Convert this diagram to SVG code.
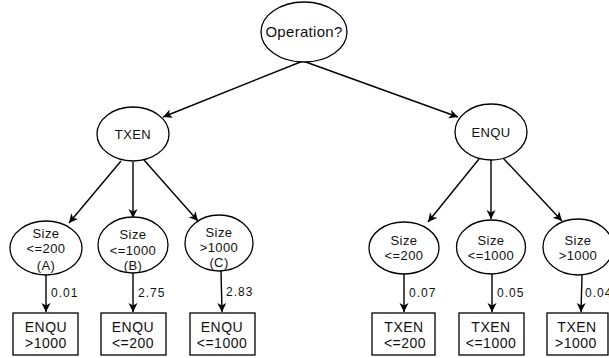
<svg xmlns="http://www.w3.org/2000/svg" width="609" height="358" viewBox="0 0 609 358">
<defs>
<marker id="ah" markerWidth="10" markerHeight="10" refX="9" refY="5" orient="auto" markerUnits="userSpaceOnUse">
<path d="M0,0.5 L9,5 L0,9.5 L2.5,5 Z" fill="#000"/>
</marker>
<style>
.n{fill:#fff;stroke:#000;stroke-width:1.3}
.t{font-family:"Liberation Sans",Arial,sans-serif;font-size:13px;letter-spacing:0.4px;fill:#111;text-anchor:middle}
.r{font-family:"Liberation Sans",Arial,sans-serif;font-size:14px;letter-spacing:0.5px;fill:#111;text-anchor:middle}
.l{font-family:"Liberation Sans",Arial,sans-serif;font-size:12px;fill:#111;letter-spacing:1px}
.e{stroke:#000;stroke-width:1.4;fill:none;marker-end:url(#ah)}
</style>
</defs>
<rect width="609" height="358" fill="#fff"/>
<g id="connectors">
<line class="e" x1="303" y1="61" x2="163" y2="117"/>
<line class="e" x1="303" y1="61" x2="458" y2="117"/>
<line class="e" x1="121" y1="161" x2="69" y2="223"/>
<line class="e" x1="133" y1="162" x2="133" y2="218"/>
<line class="e" x1="144" y1="160" x2="198" y2="221"/>
<line class="e" x1="479" y1="159" x2="428" y2="222"/>
<line class="e" x1="491" y1="160" x2="491" y2="219"/>
<line class="e" x1="503" y1="158" x2="562" y2="221"/>
<line class="e" x1="46" y1="275" x2="46" y2="312"/>
<line class="e" x1="133" y1="273" x2="133" y2="312"/>
<line class="e" x1="221" y1="271" x2="222" y2="312"/>
<line class="e" x1="404" y1="273" x2="404" y2="312"/>
<line class="e" x1="492" y1="274" x2="492" y2="312"/>
<line class="e" x1="582" y1="275" x2="581" y2="312"/>
<text class="l" x="51" y="297">0.01</text>
<text class="l" x="138" y="297">2.75</text>
<text class="l" x="226" y="296">2.83</text>
<text class="l" x="409" y="297">0.07</text>
<text class="l" x="497" y="297">0.05</text>
<text class="l" x="585" y="297">0.04</text>
</g>
<g id="root"><ellipse class="n" cx="304" cy="32" rx="43" ry="30"/><text class="t" style="font-size:15px;letter-spacing:0.3px" x="304" y="37">Operation?</text></g>
<g id="txen"><ellipse class="n" cx="133" cy="134" rx="36" ry="27"/><text class="t" x="133" y="139">TXEN</text></g>
<g id="enqu"><ellipse class="n" cx="491" cy="132" rx="36" ry="28"/><text class="t" x="491" y="137">ENQU</text></g>
<g id="sA"><ellipse class="n" cx="46" cy="248" rx="36" ry="27"/><text class="t" x="46" y="238">Size</text><text class="t" x="46" y="253">&lt;=200</text><text class="t" x="46" y="270">(A)</text></g>
<g id="sB"><ellipse class="n" cx="133" cy="245" rx="35" ry="28"/><text class="t" x="133" y="239">Size</text><text class="t" x="133" y="255">&lt;=1000</text><text class="t" x="133" y="270">(B)</text></g>
<g id="sC"><ellipse class="n" cx="219" cy="243" rx="34" ry="28"/><text class="t" x="219" y="237">Size</text><text class="t" x="219" y="252">&gt;1000</text><text class="t" x="219" y="267">(C)</text></g>
<g id="s1"><ellipse class="n" cx="404" cy="248" rx="35" ry="26"/><text class="t" x="404" y="245">Size</text><text class="t" x="404" y="260">&lt;=200</text></g>
<g id="s2"><ellipse class="n" cx="491" cy="247" rx="34.5" ry="27"/><text class="t" x="491" y="245">Size</text><text class="t" x="491" y="260">&lt;=1000</text></g>
<g id="s3"><ellipse class="n" cx="578" cy="247" rx="35" ry="28"/><text class="t" x="578" y="245">Size</text><text class="t" x="578" y="260">&gt;1000</text></g>
<g id="rA"><rect class="n" x="13" y="313" width="65" height="42"/><text class="r" x="46" y="332">ENQU</text><text class="r" x="46" y="348">&gt;1000</text></g>
<g id="rB"><rect class="n" x="101" y="313" width="65" height="42"/><text class="r" x="133" y="332">ENQU</text><text class="r" x="133" y="348">&lt;=200</text></g>
<g id="rC"><rect class="n" x="190" y="313" width="65" height="42"/><text class="r" x="222" y="332">ENQU</text><text class="r" x="222" y="348">&lt;=1000</text></g>
<g id="r1"><rect class="n" x="372" y="313" width="63" height="42"/><text class="r" x="404" y="332">TXEN</text><text class="r" x="405" y="348">&lt;=200</text></g>
<g id="r2"><rect class="n" x="459" y="313" width="65" height="42"/><text class="r" x="491" y="332">TXEN</text><text class="r" x="491" y="348">&lt;=1000</text></g>
<g id="r3"><rect class="n" x="547" y="313" width="61" height="42"/><text class="r" x="577" y="332">TXEN</text><text class="r" x="576" y="348">&gt;1000</text></g>
</svg>
